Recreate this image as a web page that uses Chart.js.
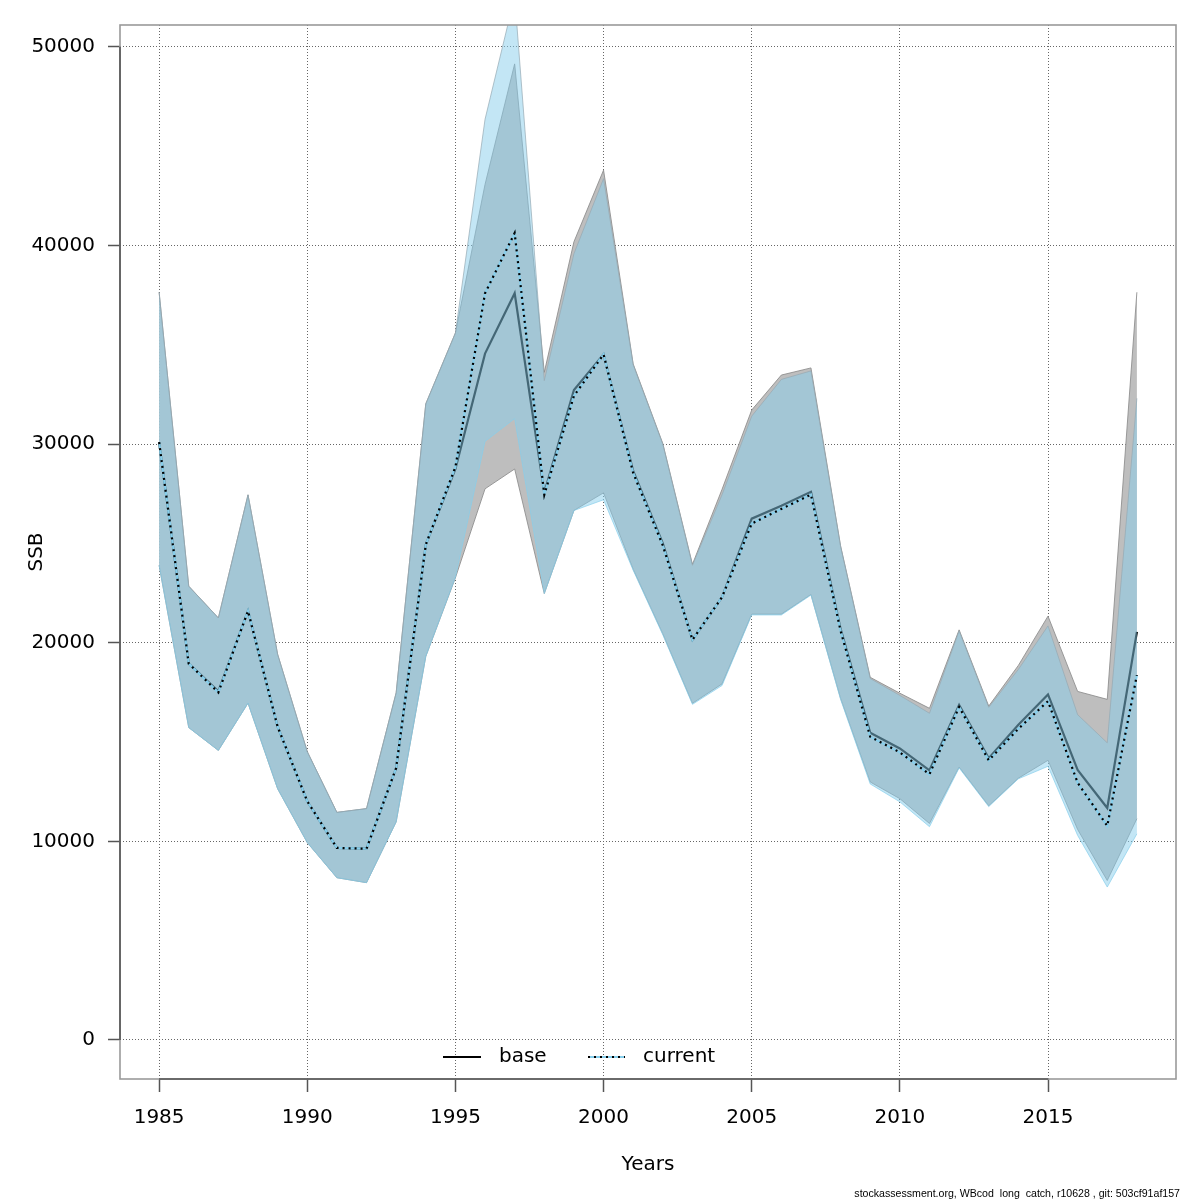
<!DOCTYPE html>
<html>
<head>
<meta charset="utf-8">
<script src="https://cdn.jsdelivr.net/npm/chart.js@4/dist/chart.umd.min.js"></script>
<style>
html,body{margin:0;padding:0;background:#fff;}
#wrap{width:1200px;height:1200px;position:relative;}
canvas{display:block;}
</style>
</head>
<body>
<div id="wrap"><canvas id="c" width="1200" height="1200"></canvas></div>
<script>
const years = [1985,1986,1987,1988,1989,1990,1991,1992,1993,1994,1995,1996,1997,1998,1999,2000,2001,2002,2003,2004,2005,2006,2007,2008,2009,2010,2011,2012,2013,2014,2015,2016,2017,2018];

const baseSSB = [30100,18950,17550,21600,15770,12020,9670,9630,13690,24940,28750,34560,37600,27550,32730,34520,28650,25000,20150,22300,26250,26900,27600,20700,15470,14680,13580,16870,14180,15870,17400,13600,11680,20550];
const baseHigh = [37650,22850,21250,27450,19420,14520,11460,11650,17480,32030,35600,43080,49150,33620,40190,43800,34040,30030,23950,27730,31720,33480,33840,24880,18260,17460,16700,20650,16810,18860,21340,17550,17150,37650];
const baseLow = [23900,15730,14580,16960,12650,9940,8170,7920,10980,19310,23270,27750,28750,22480,26660,27550,23700,20450,16950,17930,21440,21440,22430,17200,12990,12150,10900,13740,11790,13180,14080,10600,8030,11140];

const currentSSB = [30100,18950,17500,21600,15770,12020,9670,9630,13690,24940,28850,37600,40630,27450,32430,34520,28550,24900,20150,22300,26000,26740,27460,20600,15270,14480,13380,16770,14080,15670,17060,12950,10780,18370];
const currentHigh = [37650,22850,21250,27450,19420,14520,11460,11650,17480,32030,35600,46360,52550,33200,39590,43370,34000,30000,23900,27460,31410,33260,33690,24850,18200,17350,16450,20600,16750,18660,20850,16380,14960,32310];
const currentLow = [23900,15730,14580,16960,12650,9940,8170,7920,10980,19310,23300,30140,31290,22480,26660,27200,23650,20400,16900,17850,21400,21400,22400,17150,12890,11990,10740,13700,11750,13150,13780,10300,7700,10380];

const xTicks = [1985,1990,1995,2000,2005,2010,2015];
const yTicks = [0,10000,20000,30000,40000,50000];
const legendLabels = ["base","current"];
const xTitle = "Years";
const yTitle = "SSB";
const footnote = "stockassessment.org, WBcod  long  catch, r10628 , git: 503cf91af157";

const pts = arr => arr.map((v,i)=>({x:years[i], y:v}));

const GRAYFILL = '#bebebe';
const BLUEFILL = 'rgba(135,206,235,0.5)';
const EDGE = 'rgba(140,140,140,0.85)';

const common = {pointRadius:0, pointHoverRadius:0, tension:0};

const datasets = [
  {label:'baseHigh', data:pts(baseHigh), borderColor:EDGE, borderWidth:1, backgroundColor:GRAYFILL, fill:1, order:7, ...common},
  {label:'baseLow', data:pts(baseLow), borderColor:EDGE, borderWidth:1, fill:false, order:6, ...common},
  {label:'base', data:pts(baseSSB), borderColor:'#000', borderWidth:2.2, fill:false, order:5, ...common},
  {label:'currentHigh', data:pts(currentHigh), borderColor:'rgba(150,170,180,0.7)', borderWidth:1, backgroundColor:BLUEFILL, fill:4, order:4, ...common},
  {label:'currentLow', data:pts(currentLow), borderColor:'rgba(135,206,235,0.7)', borderWidth:1, fill:false, order:3, ...common},
  {label:'currentBlue', data:pts(currentSSB), borderColor:'#87ceeb', borderWidth:2.2, fill:false, order:2, ...common},
  {label:'current', data:pts(currentSSB), borderColor:'#000', borderWidth:2.2, borderDash:[2,4], fill:false, order:1, ...common}
];

const FONT = "'DejaVu Sans', sans-serif";

const framePlugin = {
  id:'frame',
  afterDraw(chart){
    const ctx = chart.ctx, a = chart.chartArea;
    const xs = chart.scales.x, ys = chart.scales.y;
    ctx.save();
    ctx.strokeStyle = '#9a9a9a';
    ctx.lineWidth = 1.6;
    ctx.strokeRect(a.left, a.top, a.right-a.left, a.bottom-a.top);
    ctx.strokeStyle = '#555';
    ctx.lineWidth = 1.6;
    ctx.beginPath();
    ctx.moveTo(xs.getPixelForValue(xTicks[0]), a.bottom);
    ctx.lineTo(xs.getPixelForValue(xTicks[xTicks.length-1]), a.bottom);
    ctx.moveTo(a.left, ys.getPixelForValue(yTicks[0]));
    ctx.lineTo(a.left, ys.getPixelForValue(yTicks[yTicks.length-1]));
    ctx.stroke();

    const ly = 1057;
    ctx.font = "20px " + FONT;
    ctx.fillStyle = '#000';
    ctx.textBaseline = 'middle';
    ctx.textAlign = 'left';
    ctx.strokeStyle = '#000';
    ctx.lineWidth = 2.2;
    ctx.setLineDash([]);
    ctx.beginPath(); ctx.moveTo(443, ly); ctx.lineTo(481, ly); ctx.stroke();
    ctx.fillText(legendLabels[0], 499, ly);
    ctx.strokeStyle = '#87ceeb';
    ctx.beginPath(); ctx.moveTo(588, ly); ctx.lineTo(625, ly); ctx.stroke();
    ctx.strokeStyle = '#000';
    ctx.setLineDash([2,4]);
    ctx.beginPath(); ctx.moveTo(588, ly); ctx.lineTo(625, ly); ctx.stroke();
    ctx.setLineDash([]);
    ctx.fillText(legendLabels[1], 643, ly);

    ctx.textAlign = 'center';
    ctx.fillText(xTitle, (a.left+a.right)/2, 1165);
    ctx.save();
    ctx.translate(37, (a.top+a.bottom)/2);
    ctx.rotate(-Math.PI/2);
    ctx.fillText(yTitle, 0, 0);
    ctx.restore();

    ctx.font = "10.6px 'Liberation Sans', Arial, sans-serif";
    ctx.textAlign = 'right';
    ctx.textBaseline = 'alphabetic';
    ctx.fillText(footnote, 1180, 1197);
    ctx.restore();
  }
};

new Chart(document.getElementById('c'), {
  type:'line',
  data:{datasets},
  options:{
    responsive:false,
    animation:false,
    devicePixelRatio:1,
    layout:{padding:{top:24, right:24, left:0, bottom:0}},
    plugins:{legend:{display:false}, tooltip:{enabled:false}},
    scales:{
      x:{
        type:'linear', min:1983.68, max:2019.32,
        afterBuildTicks(s){ s.ticks = xTicks.map(v=>({value:v})); },
        afterFit(s){ s.height = 121; },
        grid:{color:'#666', lineWidth:1, drawTicks:true, tickLength:13, tickColor:'#555', tickWidth:1.5, tickBorderDash:[]},
        border:{display:false, dash:[1,2]},
        ticks:{color:'#000', font:{family:FONT, size:20}, padding:14, maxRotation:0, autoSkip:false, callback:v=>String(v)}
      },
      y:{
        type:'linear', min:-1966, max:51107,
        afterBuildTicks(s){ s.ticks = yTicks.map(v=>({value:v})); },
        afterFit(s){ s.width = 120; },
        grid:{color:'#666', lineWidth:1, drawTicks:true, tickLength:12, tickColor:'#555', tickWidth:1.5, tickBorderDash:[]},
        border:{display:false, dash:[1,2]},
        ticks:{color:'#000', font:{family:FONT, size:20}, padding:13, autoSkip:false, callback:v=>String(v)}
      }
    }
  },
  plugins:[framePlugin]
});
</script>
</body>
</html>
